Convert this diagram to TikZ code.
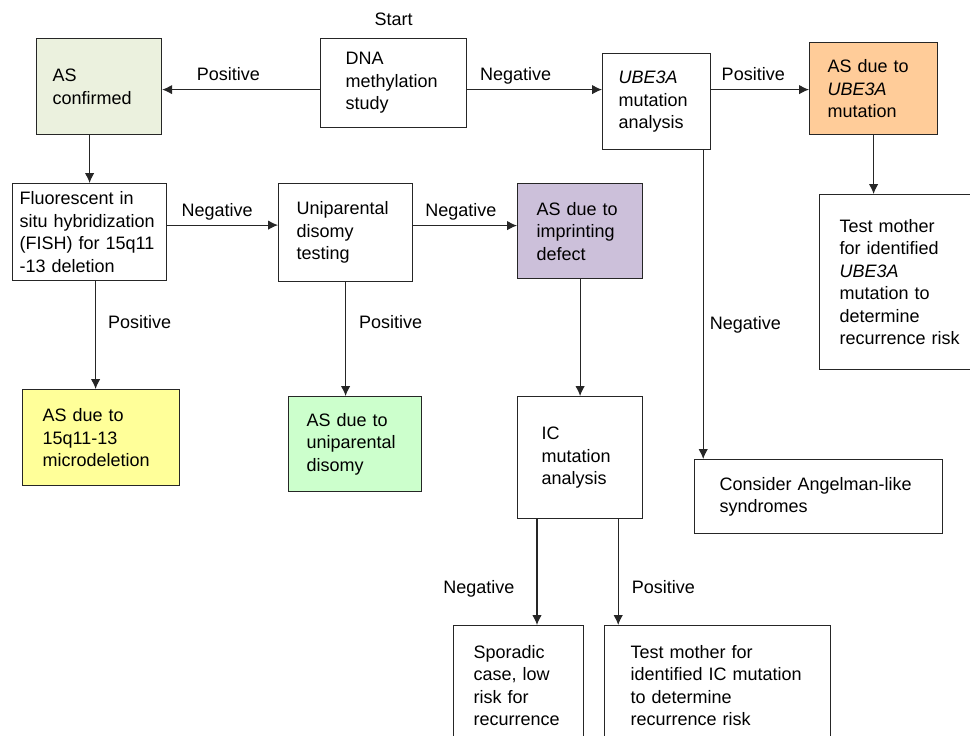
\documentclass[tikz,border=0pt]{standalone}
\usepackage{fontspec}
\setmainfont{Liberation Sans}
\usetikzlibrary{arrows.meta, positioning}

\definecolor{confgreen}{HTML}{EBF1DE}
\definecolor{peach}{HTML}{FFCC99}
\definecolor{lavender}{HTML}{CCC0DA}
\definecolor{paleyellow}{HTML}{FFFF99}
\definecolor{palegreen}{HTML}{CCFFCC}

\begin{document}
\begin{tikzpicture}[%
    ,x=1pt,y=-1pt
    ,>={Latex[length=10pt,width=9.5pt]}
    ,font=\fontsize{18}{22.5}\selectfont
    ,block/.style = {%
        ,draw=black!85
        ,line width=1.2pt
        ,anchor=north west
        ,align=left
        ,inner ysep=0pt
        }
    ,line/.style = {draw=black!85, line width=1.1pt, ->}
    ,lbl/.style = {inner sep=0pt, anchor=base}
    ]
\useasboundingbox (0,0) rectangle (970,736);

% top row
\node (asc) [block, fill=confgreen, minimum width=125pt, minimum height=96pt,
    inner xsep=16pt, text width=93pt] at (36,38) {AS\\confirmed};
\node (dna) [block, minimum width=146pt, minimum height=89pt,
    inner xsep=25pt, text width=96pt] at (320,38) {DNA\\methylation\\study};
\node (start) [lbl, above=12pt of dna] {Start};
\node (ube) [block, minimum width=108pt, minimum height=96pt,
    inner xsep=16pt, text width=76pt] at (602,53) {\textit{UBE3A}\\mutation\\analysis};
\node (asube) [block, fill=peach, minimum width=128pt, minimum height=92pt,
    inner xsep=18pt, text width=92pt] at (809,42) {AS due to\\\textit{UBE3A}\\mutation};
\node (tmube) [block, minimum width=170pt, minimum height=175pt,
    inner xsep=20pt, text width=130pt] at (819,194)
    {Test mother\\for identified\\\textit{UBE3A}\\mutation to\\determine\\recurrence risk};

% second row
\node (fish) [block, minimum width=154pt, minimum height=97pt,
    inner xsep=7pt, text width=140pt] at (12,183)
    {Fluorescent in\\situ hybridization\\(FISH) for 15q11\\-13 deletion};
\node (upd) [block, minimum width=134pt, minimum height=98pt,
    inner xsep=18pt, text width=98pt] at (278,183) {Uniparental\\disomy\\testing};
\node (imp) [block, fill=lavender, minimum width=125pt, minimum height=95pt,
    inner xsep=19pt, text width=87pt] at (517,183) {AS due to\\imprinting\\defect};

% third row
\node (del) [block, fill=paleyellow, minimum width=157pt, minimum height=96pt,
    inner xsep=20pt, text width=117pt] at (22,389) {AS due to\\15q11-13\\microdeletion};
\node (updres) [block, fill=palegreen, minimum width=133pt, minimum height=95pt,
    inner xsep=18pt, text width=97pt] at (288,396) {AS due to\\uniparental\\disomy};
\node (ic) [block, minimum width=125pt, minimum height=122pt,
    inner xsep=24pt, text width=77pt] at (517,396) {IC\\mutation\\analysis};
\node (cons) [block, minimum width=248pt, minimum height=74pt,
    inner xsep=25pt, text width=198pt] at (694,459) {Consider Angelman-like\\syndromes};

% bottom row
\node (spor) [block, minimum width=130pt, minimum height=120pt,
    inner xsep=20pt, text width=90pt] at (453,625)
    {Sporadic\\case, low\\risk for\\recurrence};
\node (tmic) [block, minimum width=226pt, minimum height=120pt,
    inner xsep=26pt, text width=174pt] at (604,625)
    {Test mother for\\identified IC mutation\\to determine\\recurrence risk};

% connectors
\draw [line] ([yshift=-3pt]dna.west |- asc.east) -- node[lbl, pos=0.58, yshift=9pt] {Positive} ([yshift=-3pt]asc.east);
\draw [line] ([yshift=-3pt]dna.east |- asc.east) -- node[lbl, pos=0.36, yshift=9pt] {Negative} ([yshift=-3pt]ube.west |- asc.east);
\draw [line] ([yshift=-3pt]ube.east |- asc.east) -- node[lbl, pos=0.43, yshift=9pt] {Positive} ([yshift=-3pt]asube.west |- asc.east);
\draw [line] (asube.south) -- (asube.south |- tmube.north);
\draw [line] (fish.north |- asc.south) -- (fish.north);
\draw [line] ([yshift=7pt]fish.east) -- node[lbl, pos=0.45, yshift=9pt] {Negative} ([yshift=7pt]fish.east -| upd.west);
\draw [line] ([yshift=7pt]upd.east) -- node[lbl, pos=0.46, yshift=9pt] {Negative} ([yshift=7pt]upd.east -| imp.west);
\draw [line] ([xshift=6pt]fish.south) -- node[lbl, anchor=base west, pos=0.44, xshift=12pt] {Positive} ([xshift=6pt]fish.south |- del.north);
\draw [line] (upd.south) -- node[lbl, anchor=base west, pos=0.41, xshift=13pt] {Positive} (upd.south |- updres.north);
\draw [line] (imp.south) -- (ic.north);
\draw [line] ([xshift=-8pt]ube.south east) -- node[lbl, anchor=base west, pos=0.58, xshift=6pt] {Negative} ([xshift=-8pt]ube.south east |- cons.north);
\draw [line] ([xshift=20pt]ic.south west) -- node[lbl, anchor=base east, pos=0.7, xshift=-22pt] {Negative} ([xshift=20pt]ic.south west |- spor.north);
\draw [line] ([xshift=-25pt]ic.south east) -- node[lbl, anchor=base west, pos=0.7, xshift=13pt] {Positive} ([xshift=-25pt]ic.south east |- tmic.north);
\end{tikzpicture}
\end{document}
